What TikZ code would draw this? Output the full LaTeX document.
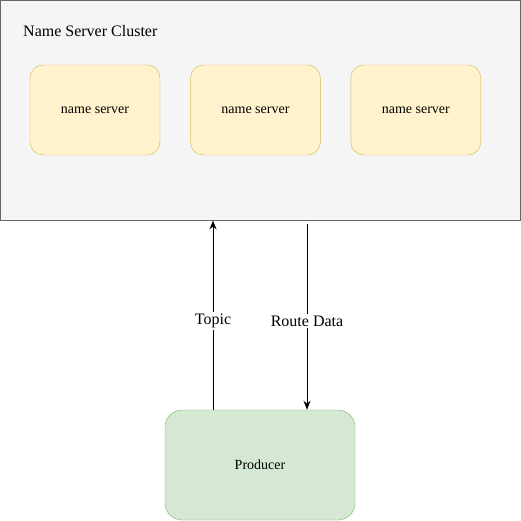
\documentclass[tikz,border=0pt]{standalone}
\usepackage{fontspec}
\setmainfont{Liberation Serif}
\usepackage{tikz}
\usetikzlibrary{arrows.meta,calc,positioning}
\definecolor{clusterfill}{HTML}{F5F5F5}
\definecolor{clusterdraw}{HTML}{666666}
\definecolor{serverfill}{HTML}{FFF2CC}
\definecolor{serverdraw}{HTML}{D6B656}
\definecolor{prodfill}{HTML}{D5E8D4}
\definecolor{proddraw}{HTML}{82B366}
\tikzset{
  serverbox/.style={draw=serverdraw, fill=serverfill, rounded corners=13pt, minimum width=130pt, minimum height=90pt, font=\fontsize{14pt}{16pt}\selectfont, inner sep=0pt},
  prodbox/.style={draw=proddraw, fill=prodfill, rounded corners=17pt, minimum width=190pt, minimum height=110pt, font=\fontsize{14pt}{16pt}\selectfont, inner sep=0pt},
  flow/.style={draw=black, line width=1pt, -{Stealth[length=9pt,width=7pt]}},
  flowlabel/.style={fill=white, inner sep=2pt, font=\fontsize{16pt}{18pt}\selectfont}
}
\begin{document}
\begin{tikzpicture}[x=1pt,y=-1pt]
\useasboundingbox (0,0) rectangle (521,521);
\node[draw=clusterdraw, fill=clusterfill, line width=1pt, minimum width=520pt, minimum height=219.5pt, inner sep=0pt] (cluster) at (260.5,110.25) {};
\node[anchor=west, font=\fontsize{16pt}{18pt}\selectfont, inner sep=0pt] (title) at (23,31) {Name Server Cluster};
\node[serverbox] (ns1) at (95,110) {name server};
\node[serverbox, right=30pt of ns1] (ns2) {name server};
\node[serverbox, right=30pt of ns2] (ns3) {name server};
\node[prodbox] (producer) at (260,465) {Producer};
\coordinate (topicin) at ($(cluster.south)+(-47.5,0)$);
\coordinate (routeout) at ($(cluster.south)+(46.5,3)$);
\draw[flow] ($(producer.north)+(-47,0)$) -- node[flowlabel, pos=0.47] {Topic} (topicin);
\draw[flow] (routeout) -- node[flowlabel, pos=0.524] {Route Data} ($(producer.north)+(47,0)$);
\end{tikzpicture}
\end{document}
